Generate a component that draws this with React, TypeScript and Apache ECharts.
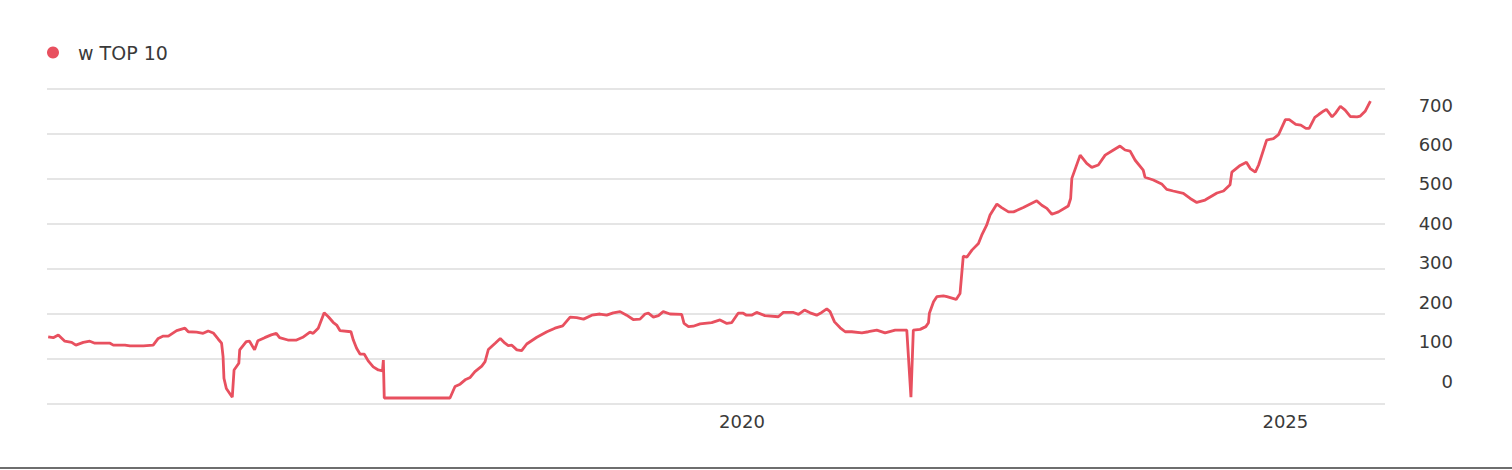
import React, { useEffect, useRef } from "react";
import * as echarts from "echarts";

const seriesName = "w TOP 10";

const dates: string[] = [
  "2013-08-12","2013-08-29","2013-09-15","2013-10-07","2013-10-30","2013-11-13","2013-12-08","2013-12-30",
  "2014-01-16","2014-03-08","2014-03-19","2014-04-27","2014-05-14","2014-06-28","2014-07-31","2014-08-17",
  "2014-09-03","2014-09-20","2014-10-18","2014-11-15","2014-11-26","2014-12-24",
  "2015-01-15","2015-02-01","2015-02-18","2015-03-07","2015-03-18","2015-03-23","2015-03-26","2015-04-03",
  "2015-04-23","2015-04-29","2015-05-15","2015-05-18","2015-06-09","2015-06-20","2015-07-07","2015-07-18",
  "2015-08-10","2015-09-01","2015-09-18","2015-09-29","2015-10-27","2015-11-25","2015-12-16",
  "2016-01-09","2016-01-20","2016-02-06","2016-02-26","2016-03-11","2016-03-27","2016-04-08","2016-04-19",
  "2016-05-26","2016-06-03","2016-06-14","2016-06-26","2016-07-10","2016-07-23","2016-08-09","2016-08-26",
  "2016-09-09","2016-09-12","2016-09-15",
  "2017-04-24","2017-05-11","2017-05-28","2017-06-14","2017-07-01","2017-07-17","2017-08-09","2017-08-20",
  "2017-08-31","2017-09-23","2017-10-10","2017-10-26","2017-11-06","2017-11-18","2017-12-05","2017-12-21",
  "2018-01-07","2018-02-10","2018-03-16","2018-04-12","2018-05-08","2018-06-02","2018-06-24","2018-07-17",
  "2018-08-14","2018-09-10","2018-10-03","2018-10-25","2018-11-17","2018-12-09","2018-12-31",
  "2019-01-23","2019-02-09","2019-02-20","2019-03-09","2019-03-26","2019-04-11","2019-05-04","2019-06-12",
  "2019-06-20","2019-07-05","2019-07-21","2019-08-13","2019-09-21","2019-10-19","2019-11-11","2019-11-27",
  "2019-12-19",
  "2020-01-05","2020-01-16","2020-02-02","2020-02-19","2020-03-18","2020-05-02","2020-05-19","2020-06-22",
  "2020-07-09","2020-07-29","2020-08-17","2020-09-08","2020-09-25","2020-10-12","2020-10-23","2020-11-07",
  "2020-11-26","2020-12-13",
  "2021-01-04","2021-02-07","2021-03-01","2021-03-29","2021-04-26","2021-05-30","2021-07-08","2021-07-22",
  "2021-07-30","2021-08-22","2021-09-10","2021-09-19","2021-09-22","2021-10-06","2021-10-17","2021-11-08",
  "2021-11-20","2021-12-21",
  "2022-01-03","2022-01-14","2022-01-26","2022-02-12","2022-03-06","2022-03-17","2022-04-03","2022-04-14",
  "2022-05-07","2022-05-23","2022-06-15","2022-07-02","2022-08-04","2022-09-18","2022-10-05","2022-10-22",
  "2022-11-08","2022-11-30",
  "2023-01-02","2023-01-10","2023-01-14","2023-02-11","2023-03-05","2023-03-22","2023-04-13","2023-05-06",
  "2023-06-03","2023-06-25","2023-07-12","2023-07-29","2023-08-15","2023-09-11","2023-09-17","2023-10-15",
  "2023-11-12","2023-11-29","2023-12-21",
  "2024-01-24","2024-02-16","2024-03-09","2024-04-06","2024-05-16","2024-06-07","2024-06-29","2024-07-05",
  "2024-08-02","2024-08-23","2024-09-05","2024-09-22","2024-10-03","2024-10-30","2024-11-22","2024-12-09",
  "2025-01-01","2025-01-14","2025-02-05","2025-02-22","2025-03-11","2025-03-22","2025-04-10","2025-04-23",
  "2025-05-10","2025-05-19","2025-06-07","2025-06-18","2025-07-05","2025-07-21","2025-08-07","2025-08-30",
  "2025-09-10","2025-09-27","2025-10-14",
];

const values: number[] = [
  112,110,117,101,98,91,98,101,
  96,96,91,91,89,89,91,108,
  114,114,128,134,125,124,
  121,127,122,106,96,62,7,-19,
  -41,28,45,79,100,101,79,102,
  110,117,121,110,104,104,111,
  124,121,134,173,163,149,142,128,
  125,104,83,68,68,51,36,28,
  26,53,-43,
  -43,-14,-8,3,9,24,38,49,
  80,96,108,96,90,91,79,77,
  94,111,125,134,140,162,161,157,
  167,170,167,173,176,167,156,
  157,170,172,162,166,176,170,169,
  146,138,139,145,148,155,146,148,
  172,
  172,167,167,174,166,163,174,174,
  169,180,173,167,174,183,176,150,
  135,125,
  125,122,125,129,122,129,129,-41,
  129,131,138,148,172,201,214,216,
  214,207,
  222,317,314,332,349,370,396,421,
  449,440,429,429,440,457,446,438,
  423,429,
  444,463,514,573,552,542,548,573,
  586,596,586,583,560,535,517,510,
  500,486,482,
  476,463,453,459,477,482,498,530,
  547,555,539,530,548,611,615,625,
  663,663,651,649,641,641,669,676,
  685,689,670,679,697,687,671,670,
  672,685,710,
];

const yTickLabels: number[] = [0, 100, 200, 300, 400, 500, 600, 700];
const xTickDates: string[] = ["2020-01-01", "2025-01-01"];
const xRange: string[] = ["2013-08-08", "2025-12-02"];

const toTime = (d: string) => new Date(d + "T00:00:00").getTime();

export default function App() {
  const ref = useRef<HTMLDivElement>(null);

  useEffect(() => {
    if (!ref.current) return;
    const chart = echarts.init(ref.current, undefined, { renderer: "svg" });
    const font = "'DejaVu Sans', 'Noto Sans', sans-serif";
    const textColor = "#3a3a3a";
    chart.setOption({
      animation: false,
      backgroundColor: "#ffffff",
      textStyle: { fontFamily: font },
      legend: {
        data: [seriesName],
        left: 42,
        top: 38,
        icon: "circle",
        itemWidth: 12,
        itemHeight: 12,
        selectedMode: false,
        textStyle: { fontSize: 19, color: textColor, fontFamily: font, padding: [0, 0, 0, 14] },
      },
      grid: { left: 47, right: 127, top: 88.5, height: 315 },
      xAxis: {
        type: "value",
        min: toTime(xRange[0]),
        max: toTime(xRange[1]),
        axisLine: { show: false },
        axisTick: { show: false },
        splitLine: { show: false },
        axisLabel: {
          customValues: xTickDates.map(toTime),
          formatter: (v: number) => String(new Date(v).getFullYear()),
          fontSize: 18,
          color: textColor,
          margin: 9,
          fontFamily: font,
        },
      },
      yAxis: [
        {
          type: "value",
          position: "right",
          min: -57,
          max: 742,
          splitLine: { show: false },
          axisLine: { show: false },
          axisTick: { show: false },
          axisLabel: {
            customValues: yTickLabels,
            align: "right",
            margin: 68,
            fontSize: 18,
            color: textColor,
            fontFamily: font,
          },
        },
        {
          type: "value",
          position: "left",
          min: 0,
          max: 7,
          interval: 1,
          axisLine: { show: false },
          axisTick: { show: false },
          axisLabel: { show: false },
          splitLine: { show: true, lineStyle: { color: "#dcdcdc", width: 1.5 } },
        },
      ],
      graphic: [
        {
          type: "rect",
          left: 0,
          top: 467,
          shape: { width: 1512, height: 2 },
          style: { fill: "#6e6e6e" },
          silent: true,
        },
      ],
      series: [
        {
          name: seriesName,
          type: "line",
          yAxisIndex: 0,
          showSymbol: false,
          symbol: "circle",
          itemStyle: { color: "#e8505f" },
          lineStyle: { color: "#e8505f", width: 2.8 },
          data: dates.map((d, i) => [toTime(d), values[i]]),
        },
      ],
    });
    return () => chart.dispose();
  }, []);

  return (
    <div
      ref={ref}
      style={{ position: "absolute", left: 0, top: 0, width: 1512, height: 470 }}
    />
  );
}
